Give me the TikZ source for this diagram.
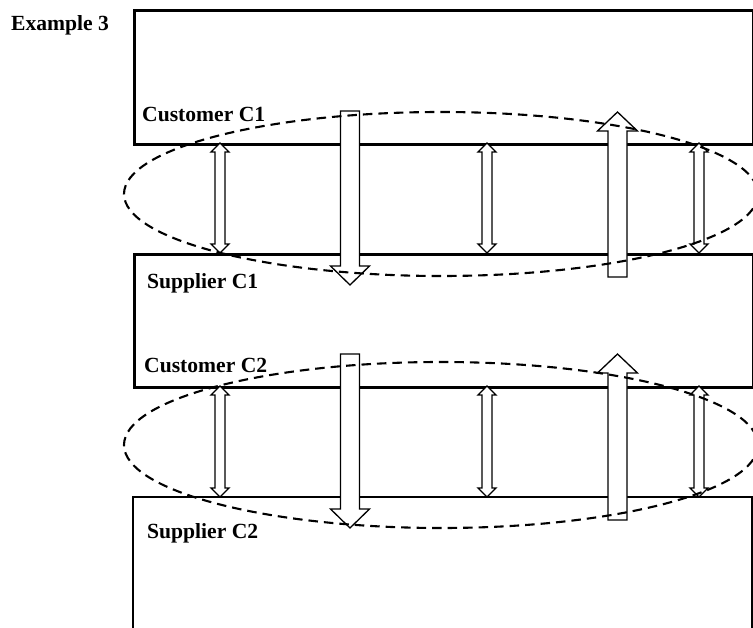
\documentclass[tikz,border=0pt]{standalone}
\usepackage{fontspec}
\setmainfont{Liberation Serif}
\begin{document}
\begin{tikzpicture}[x=1pt,y=-1pt,
  boxline/.style={line width=2.9pt, line join=miter},
  lbl/.style={font=\fontsize{21.6}{24}\selectfont\bfseries, inner sep=0pt, anchor=base west},
  arr/.style={draw, line width=1.3pt, fill=white, line join=miter},
  loop/.style={dashed, dash pattern=on 9.5pt off 6pt, line width=2.1pt}]
\useasboundingbox (0,0) rectangle (753,628);
% boxes
\node[boxline, draw, rectangle, minimum width=619pt, minimum height=134pt, inner sep=0pt, anchor=north west] (cust1) at (133,9) {};
\node[boxline, draw, rectangle, minimum width=619pt, minimum height=133pt, inner sep=0pt, anchor=north west] (sup1) at (133,253) {};
\coordinate (s2bl) at (133,640);
\coordinate (s2tl) at (133,497);
\coordinate (s2tr) at (752,497);
\coordinate (s2br) at (752,640);
\draw[boxline] (s2bl) -- (s2tl) -- (s2tr) -- (s2br);
% labels
\node[lbl] (ex) at (11,31) {Example 3};
\node[lbl] (lc1) at (142,122) {Customer C1};
\node[lbl] (ls1) at (147,289) {Supplier C1};
\node[lbl] (lc2) at (144,372.5) {Customer C2};
\node[lbl] (ls2) at (147,538) {Supplier C2};
% small double arrows
\newcommand{\dblarr}[3]{%
  \draw[arr] (#1-5,#2+9) -- (#1-9,#2+9) -- (#1,#2) -- (#1+9,#2+9) -- (#1+5,#2+9)
    -- (#1+5,#3-9) -- (#1+9,#3-9) -- (#1,#3) -- (#1-9,#3-9) -- (#1-5,#3-9) -- cycle;}
\foreach \yy/\zz in {143/253, 386/497}{
  \foreach \xx in {220,487,699}{\dblarr{\xx}{\yy}{\zz}}}
% big arrows
\newcommand{\downarr}[3]{%
  \draw[arr] (#1-9.5,#2) -- (#1+9.5,#2) -- (#1+9.5,#3-19) -- (#1+19.5,#3-19) -- (#1,#3)
    -- (#1-19.5,#3-19) -- (#1-9.5,#3-19) -- cycle;}
\newcommand{\uparr}[3]{%
  \draw[arr] (#1-9.5,#2) -- (#1+9.5,#2) -- (#1+9.5,#3+19) -- (#1+20,#3+19) -- (#1,#3)
    -- (#1-20,#3+19) -- (#1-9.5,#3+19) -- cycle;}
\downarr{350}{111}{285}
\uparr{617.5}{277}{112}
\downarr{350}{354}{528}
\uparr{617.5}{520}{354}
% dashed loops
\draw[loop] (441,194) ellipse [x radius=317, y radius=82];
\draw[loop] (441,445) ellipse [x radius=317, y radius=83];
\end{tikzpicture}
\end{document}
